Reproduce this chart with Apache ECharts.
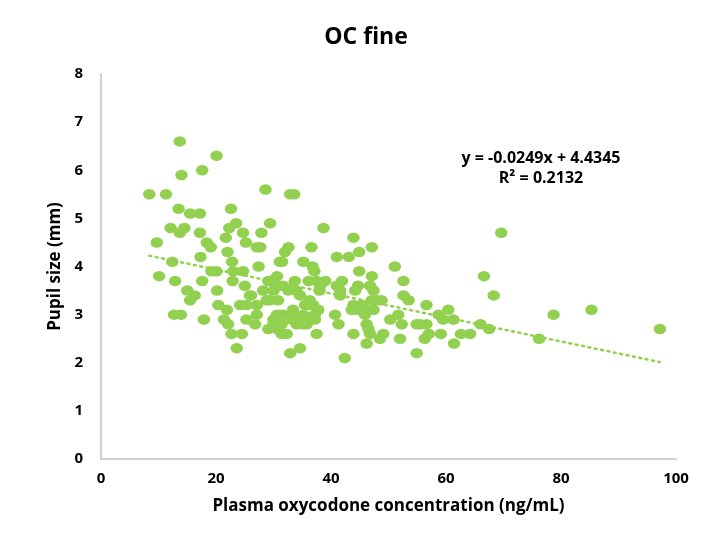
<!DOCTYPE html>
<html>
<head>
<meta charset="utf-8">
<script src="https://cdn.jsdelivr.net/npm/echarts@6/dist/echarts.min.js"></script>
<style>
  html, body { margin: 0; padding: 0; background: #fff; }
  #chart { width: 705px; height: 535px; }
</style>
</head>
<body>
<div id="chart"></div>
<script>
// plasma oxycodone (ng/mL) vs pupil size (mm)
const concentration = [
  13.7, 20.1, 14.0, 17.6, 8.4, 11.3, 28.6, 32.9, 33.6, 13.5,
  15.5, 17.2, 22.6, 23.5, 22.3, 29.4, 12.1, 14.5, 13.7, 17.2,
  24.7, 27.9, 9.7, 18.4, 19.1, 21.7, 25.2, 27.1, 27.7, 22.0,
  17.3, 12.4, 31.1, 22.8, 19.2, 20.1, 23.0, 24.7, 27.4, 10.1,
  12.9, 17.6, 22.9, 25.0, 29.1, 30.6, 20.2, 15.0, 16.3, 26.1,
  28.2, 30.0, 15.5, 12.7, 13.9, 17.9, 20.4, 21.9, 21.4, 22.1,
  24.2, 22.7, 24.5, 23.6, 25.3, 27.1, 25.9, 25.3, 27.1, 26.8,
  28.8, 29.1, 30.0, 29.4, 38.7, 43.9, 32.6, 32.0, 36.6, 47.1,
  41.0, 43.1, 44.9, 31.5, 35.2, 36.8, 37.1, 51.1, 44.9, 47.1,
  52.6, 33.7, 36.1, 37.5, 39.0, 31.7, 32.6, 34.0, 38.1, 38.0,
  41.9, 41.0, 41.6, 44.7, 44.2, 46.8, 47.4, 52.6, 53.5, 56.6,
  29.4, 30.8, 33.4, 36.3, 36.9, 37.8, 35.5, 43.9, 45.3, 47.1,
  48.0, 48.8, 43.6, 44.5, 46.2, 47.4, 50.3, 51.7, 52.3, 54.9,
  56.6, 30.6, 31.7, 30.0, 31.4, 31.4, 33.4, 34.6, 35.2, 35.8,
  40.7, 41.3, 45.9, 46.2, 46.5, 46.8, 43.9, 37.5, 49.1, 48.5,
  52.0, 56.3, 46.2, 32.9, 34.6, 42.4, 54.9, 32.3, 69.6, 66.6,
  68.3, 78.7, 85.3, 97.2, 76.2, 58.7, 60.4, 59.5, 61.3, 55.5,
  57.0, 59.1, 61.4, 62.6, 64.2, 66.0, 67.5, 31.1, 41.6, 34.6,
  36.4, 37.2, 31.1, 33.2, 36.1, 37.2, 34.0, 35.2, 30.6
]
const pupilSize = [
  6.6, 6.3, 5.9, 6.0, 5.5, 5.5, 5.6, 5.5, 5.5, 5.2,
  5.1, 5.1, 5.2, 4.9, 4.8, 4.9, 4.8, 4.8, 4.7, 4.7,
  4.7, 4.7, 4.5, 4.5, 4.4, 4.6, 4.5, 4.4, 4.4, 4.3,
  4.2, 4.1, 4.1, 4.1, 3.9, 3.9, 3.9, 3.9, 4.0, 3.8,
  3.7, 3.7, 3.7, 3.6, 3.7, 3.8, 3.5, 3.5, 3.4, 3.4,
  3.5, 3.5, 3.3, 3.0, 3.0, 2.9, 3.2, 3.1, 2.9, 2.8,
  3.2, 2.6, 2.6, 2.3, 3.2, 3.2, 3.4, 2.9, 3.0, 2.8,
  3.3, 2.7, 2.9, 3.7, 4.8, 4.6, 4.4, 4.3, 4.4, 4.4,
  4.2, 4.2, 4.3, 4.1, 4.1, 4.0, 3.9, 4.0, 3.9, 3.8,
  3.7, 3.7, 3.7, 3.7, 3.7, 3.6, 3.5, 3.5, 3.6, 3.5,
  3.7, 3.6, 3.5, 3.6, 3.5, 3.6, 3.5, 3.4, 3.3, 3.2,
  3.3, 3.3, 3.1, 3.3, 3.2, 3.1, 3.2, 3.2, 3.2, 3.3,
  3.3, 3.3, 3.1, 3.1, 3.1, 3.1, 2.9, 3.0, 2.8, 2.8,
  2.8, 3.0, 3.0, 2.8, 2.8, 2.6, 3.0, 2.9, 3.0, 2.8,
  3.0, 2.8, 3.0, 2.8, 2.7, 2.6, 2.6, 2.6, 2.6, 2.5,
  2.5, 2.5, 2.4, 2.2, 2.3, 2.1, 2.2, 2.6, 4.7, 3.8,
  3.4, 3.0, 3.1, 2.7, 2.5, 3.0, 3.1, 2.9, 2.9, 2.8,
  2.6, 2.6, 2.4, 2.6, 2.6, 2.8, 2.7, 3.6, 3.4, 3.4,
  3.2, 3.0, 3.0, 2.9, 2.9, 2.9, 2.8, 2.8, 2.7
]
// linear trendline as printed on the chart
const trendSlope = -0.0249
const trendIntercept = 4.4345
const trendLabel = ['y = -0.0249x + 4.4345', 'R² = 0.2132']

const xTicks = { min: 0, max: 100, interval: 20 }
const yTicks = { min: 0, max: 8, interval: 1 }

const green = '#92D050'
const font = '"Open Sans", "Liberation Sans", sans-serif'

const points = concentration.map((x, i) => [x, pupilSize[i]])
const xLo = Math.min.apply(null, concentration)
const xHi = Math.max.apply(null, concentration)
const trend = [xLo, xHi].map(x => [x, trendSlope * x + trendIntercept])

const chart = echarts.init(document.getElementById('chart'))
const option = {
  backgroundColor: '#fff',
  animation: false,
  grid: { left: 101, right: 29, top: 74, bottom: 76 },
  xAxis: {
    type: 'value',
    min: xTicks.min,
    max: xTicks.max,
    interval: xTicks.interval,
    name: 'Plasma oxycodone concentration (ng/mL)',
    nameLocation: 'middle',
    nameGap: 39,
    nameTextStyle: { fontFamily: font, fontSize: 17, fontWeight: 'bold', color: '#000' },
    axisLine: { show: true, lineStyle: { color: '#D0D0D0', width: 2 } },
    axisTick: { show: false },
    splitLine: { show: false },
    axisLabel: { margin: 12, fontFamily: font, fontSize: 15, fontWeight: 'bold', color: '#000' },
  },
  yAxis: {
    type: 'value',
    min: yTicks.min,
    max: yTicks.max,
    interval: yTicks.interval,
    name: 'Pupil size (mm)',
    nameLocation: 'middle',
    nameGap: 35,
    nameTextStyle: { fontFamily: font, fontSize: 17, fontWeight: 'bold', color: '#000' },
    axisLine: { show: true, lineStyle: { color: '#D0D0D0', width: 2 } },
    axisTick: { show: false },
    splitLine: { show: false },
    axisLabel: { margin: 18, fontFamily: font, fontSize: 15, fontWeight: 'bold', color: '#000' },
  },
  series: [
    {
      type: 'scatter',
      data: points,
      symbol: 'path://M0,5a6,5 0 1,0 12,0a6,5 0 1,0 -12,0z',
      symbolSize: [12.5, 10.5],
      itemStyle: { color: green, opacity: 1 },
      z: 3,
    },
    {
      type: 'line',
      data: trend,
      symbol: 'none',
      lineStyle: { color: green, width: 2.5, type: [2, 4.5], cap: 'round' },
      z: 2,
    },
  ],
  graphic: [
    {
      type: 'text',
      x: 366,
      y: 37,
      style: {
        text: 'OC fine',
        align: 'center',
        verticalAlign: 'middle',
        fontFamily: font, fontSize: 23, fontWeight: 'bold', fill: '#000',
      },
    },
    {
      type: 'text',
      x: 541,
      y: 158,
      style: {
        text: trendLabel[0],
        align: 'center',
        verticalAlign: 'middle',
        fontFamily: font, fontSize: 16, fontWeight: 'bold', fill: '#000',
      },
    },
    {
      type: 'text',
      x: 541,
      y: 178,
      style: {
        text: trendLabel[1],
        align: 'center',
        verticalAlign: 'middle',
        fontFamily: font, fontSize: 16, fontWeight: 'bold', fill: '#000',
      },
    },
  ],
}
chart.setOption(option)
</script>
</body>
</html>
